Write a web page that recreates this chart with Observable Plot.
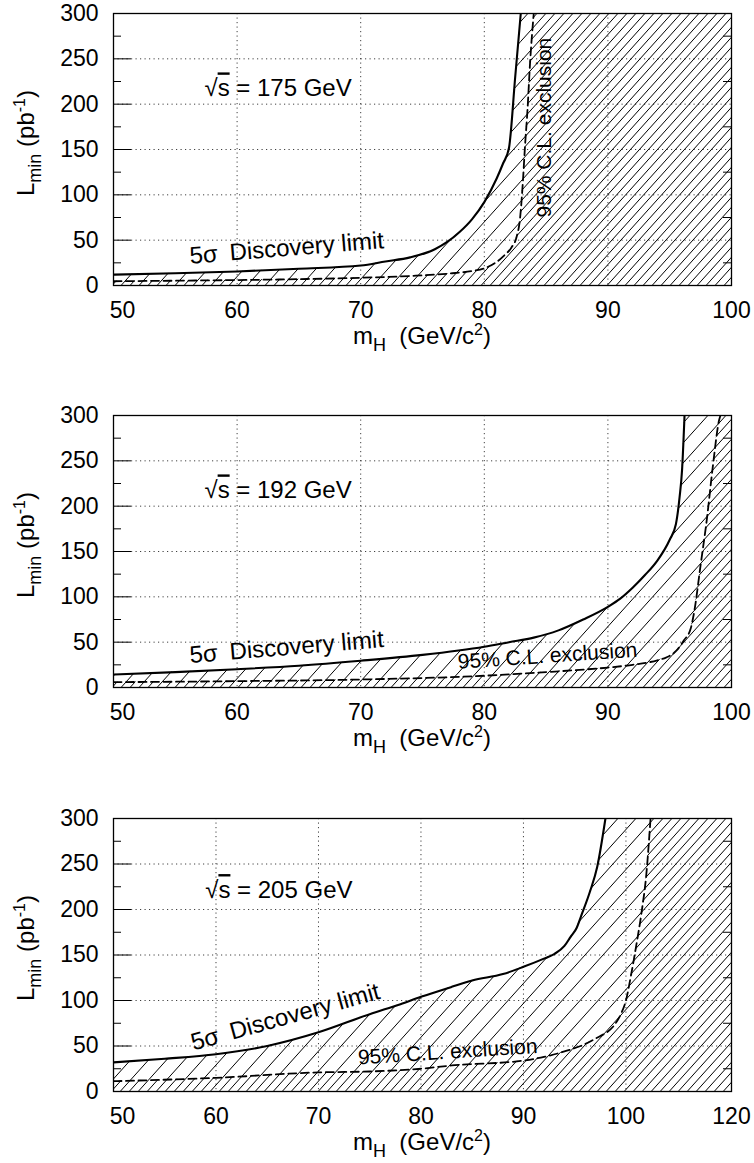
<!DOCTYPE html>
<html><head><meta charset="utf-8">
<script src="https://cdn.jsdelivr.net/npm/d3@7"></script>
<script src="https://cdn.jsdelivr.net/npm/@observablehq/plot@0.6"></script>
<style>body{margin:0;background:#fff} svg{display:block} #chart{width:754px}</style>
</head><body><div id="chart"></div>
<script>
// ---------- data ----------
const energies = ["175", "192", "205"];

const mH175Disc = [50, 55, 60, 65, 70, 72, 74, 76, 77, 78, 79, 80, 81, 81.5, 82, 82.5, 82.95];
const L175Disc  = [12, 13.5, 15.5, 18.5, 22, 26.5, 31, 40, 48, 59, 73, 92, 118, 134, 152, 230, 300];
const mH175Excl = [50, 55, 60, 65, 70, 74, 77, 79, 80, 81, 81.6, 82.2, 82.6, 82.9, 83.1, 83.3, 83.5, 83.7, 84];
const L175Excl  = [4.7, 5.3, 6, 7, 8.5, 10.5, 13, 16, 19, 26, 33, 42, 53, 75, 110, 155, 195, 245, 300];

const mH192Disc = [50, 55, 60, 65, 70, 75, 80, 82, 84, 86, 88, 90, 91, 92, 93, 94, 95, 95.5, 95.8, 96, 96.2];
const L192Disc  = [14.3, 17, 20.2, 24, 29.5, 36, 45, 50, 55, 63, 75, 89, 98, 110, 124, 140, 163, 180, 210, 240, 300];
const mH192Excl = [50, 60, 70, 80, 85, 90, 92, 94, 94.7, 95.5, 96.15, 96.7, 97, 97.5, 98, 98.5, 99, 99.1];
const L192Excl  = [5.9, 7, 8.8, 13, 17, 22, 25, 30, 33, 40, 52, 65, 85, 135, 185, 245, 295, 300];

const mH205Disc = [50, 55, 60, 65, 70, 75, 78, 80, 83, 85, 88, 90, 92, 93, 94, 94.6, 95.2, 95.6, 96.5, 97.2, 98];
const L205Disc  = [32, 36, 41, 50, 65, 85, 96, 104, 115, 122, 129, 137, 146, 151, 160, 170, 180, 192, 220, 247, 300];
const mH205Excl = [50, 60, 70, 75, 80, 83, 90, 92, 94, 96, 97.5, 98, 99, 99.5, 100, 100.5, 101, 101.5, 102, 102.4];
const L205Excl  = [11.3, 15, 21, 22, 25, 28.6, 34, 38, 44, 52, 61, 64, 75, 85, 100, 128, 160, 195, 240, 300];

const yTicks = [0, 50, 100, 150, 200, 250, 300];
const yMinorTicks = [25, 75, 125, 175, 225, 275];
const yGrid = [50, 100, 150, 200, 250];
const xTicksAB = [50, 60, 70, 80, 90, 100];
const xLabelsAB = ["50", "60", "70", "80", "90", "100"];
const xGridAB = [60, 70, 80, 90];
const xTicksC = [50, 60, 70, 80, 90, 100, 110.3];
const xLabelsC = ["50", "60", "70", "80", "90", "100", "120"];
const xGridC = [60, 70, 80, 90, 100];

const discText = "5σ\u2002Discovery limit";
const exclText = "95% C.L. exclusion";

// ---------- panels ----------
const panels = [
  {id: "a", energy: energies[0], xDomain: [50, 100], xTicks: xTicksAB, xLabels: xLabelsAB, xGrid: xGridAB,
   disc: [mH175Disc, L175Disc], excl: [mH175Excl, L175Excl], height: 402, mb: 117,
   sLabel: {m: 57.4, L: 208}, dLabel: {m: 56.2, L: 24, rot: -4.6}, eLabel: {m: 85.4, L: 75, rot: -90}},
  {id: "b", energy: energies[1], xDomain: [50, 100], xTicks: xTicksAB, xLabels: xLabelsAB, xGrid: xGridAB,
   disc: [mH192Disc, L192Disc], excl: [mH192Excl, L192Excl], height: 403, mb: 118,
   sLabel: {m: 57.4, L: 208}, dLabel: {m: 56.2, L: 27, rot: -4.7}, eLabel: {m: 77.9, L: 20.6, rot: -3.9}},
  {id: "c", energy: energies[2], xDomain: [50, 110.3], xTicks: xTicksC, xLabels: xLabelsC, xGrid: xGridC,
   disc: [mH205Disc, L205Disc], excl: [mH205Excl, L205Excl], height: 358, mb: 72,
   sLabel: {m: 59.0, L: 212}, dLabel: {m: 57.8, L: 45, rot: -15.5}, eLabel: {m: 73.9, L: 29.7, rot: -3.7}}
];

const W = 754, mL = 113, mR = 23, mT = 13;
const plotW = W - mL - mR;
const font = "'Liberation Sans', Arial, Helvetica, sans-serif";

function hatchPattern(defs, id, offset) {
  const w = 18, h = 20;
  const p = defs.append("pattern").attr("id", id).attr("patternUnits", "userSpaceOnUse")
    .attr("width", w).attr("height", h).attr("x", offset).attr("y", 0);
  p.append("path")
    .attr("d", `M0,${h} L${w},0 M${-w*0.25},${h*0.25} L${w*0.25},${-h*0.25} M${w*0.75},${h*1.25} L${w*1.25},${h*0.75}`)
    .attr("stroke", "#000").attr("stroke-width", 1).attr("fill", "none");
}

for (const cfg of panels) {
  const disc = cfg.disc[0].map((m, i) => ({m, L: cfg.disc[1][i]}));
  const excl = cfg.excl[0].map((m, i) => ({m, L: cfg.excl[1][i]}));
  const xmax = cfg.xDomain[1];
  const lastD = disc[disc.length - 1], lastE = excl[excl.length - 1];
  const fillD = `url(#hatchD_${cfg.id})`, fillE = `url(#hatchE_${cfg.id})`;
  const labFmt = d => cfg.xLabels[cfg.xTicks.indexOf(d)];

  const plot = Plot.plot({
    width: W, height: cfg.height,
    marginLeft: mL, marginRight: mR, marginTop: mT, marginBottom: cfg.mb,
    style: {fontFamily: font, fontSize: "23px", background: "#fff", overflow: "visible"},
    x: {domain: cfg.xDomain},
    y: {domain: [0, 300]},
    marks: [
      // hatched regions
      Plot.areaY(disc, {x: "m", y1: 0, y2: "L", fill: fillD, curve: "monotone-x", clip: true}),
      Plot.rect([{x1: lastD.m, x2: xmax}], {x1: "x1", x2: "x2", y1: 0, y2: 300, fill: fillD}),
      Plot.areaY(excl, {x: "m", y1: 0, y2: "L", fill: fillE, curve: "monotone-x", clip: true}),
      Plot.rect([{x1: lastE.m, x2: xmax}], {x1: "x1", x2: "x2", y1: 0, y2: 300, fill: fillE}),
      // grid
      Plot.gridX({ticks: cfg.xGrid, stroke: "#000", strokeOpacity: 0.75, strokeDasharray: "1.2,3.3", strokeWidth: 1}),
      Plot.gridY({ticks: yGrid, stroke: "#000", strokeOpacity: 0.75, strokeDasharray: "1.2,3.3", strokeWidth: 1}),
      // inner ticks
      Plot.tickY(yTicks, {y: d => d, insetRight: plotW - 18, stroke: "#000", strokeWidth: 1}),
      Plot.tickY(yMinorTicks, {y: d => d, insetRight: plotW - 8, stroke: "#000", strokeWidth: 1}),
      Plot.tickY(yMinorTicks, {y: d => d, insetLeft: plotW - 8, stroke: "#000", strokeWidth: 1}),
      // curves
      Plot.line(excl, {x: "m", y: "L", stroke: "#000", strokeWidth: 1.8, strokeDasharray: "8,4.5", curve: "monotone-x", clip: true}),
      Plot.line(disc, {x: "m", y: "L", stroke: "#000", strokeWidth: 2.1, curve: "monotone-x", clip: true}),
      Plot.frame({stroke: "#000", strokeWidth: 1.3}),
      // axes
      Plot.axisY({ticks: yTicks, tickSize: 0, tickPadding: 15, fontSize: 23, label: null}),
      Plot.axisX({ticks: cfg.xTicks.slice(0, 1), tickFormat: labFmt, tickSize: 0, tickPadding: 16, fontSize: 23, dx: 9, label: null}),
      Plot.axisX({ticks: cfg.xTicks.slice(1), tickFormat: labFmt, tickSize: 0, tickPadding: 16, fontSize: 23, label: null}),
      // annotations
      Plot.text([cfg.dLabel], {x: "m", y: "L", text: () => discText, rotate: cfg.dLabel.rot, textAnchor: "start", lineAnchor: "bottom", fontSize: 24, fill: "#000"}),
      Plot.text([cfg.eLabel], {x: "m", y: "L", text: () => exclText, rotate: cfg.eLabel.rot, textAnchor: "start", lineAnchor: "bottom", fontSize: 21, fill: "#000"})
    ]
  });

  const svg = d3.select(plot);
  const defs = svg.insert("defs", ":first-child");
  hatchPattern(defs, `hatchD_${cfg.id}`, 0);
  hatchPattern(defs, `hatchE_${cfg.id}`, 9);

  const xs = plot.scale("x"), ys = plot.scale("y");
  // sqrt(s) label
  const t = svg.append("text").attr("x", xs.apply(cfg.sLabel.m)).attr("y", ys.apply(cfg.sLabel.L))
    .attr("text-anchor", "start").attr("font-size", 24).attr("font-family", font).attr("fill", "#000")
    .style("white-space", "pre");
  t.append("tspan").text("√");
  t.append("tspan").text("s").style("text-decoration", "overline");
  t.append("tspan").text(` = ${cfg.energy} GeV`);

  // x title
  const fx = (xs.apply(cfg.xDomain[0]) + xs.apply(cfg.xDomain[1])) / 2;
  const fb = ys.apply(0), ft = ys.apply(300);
  const xt = svg.append("text").attr("x", fx).attr("y", fb + 59).attr("text-anchor", "middle")
    .attr("font-size", 24).attr("font-family", font).attr("fill", "#000").style("white-space", "pre");
  xt.append("tspan").text("m");
  xt.append("tspan").text("H").attr("font-size", 18).attr("dy", 7);
  xt.append("tspan").text("  (GeV/c").attr("dy", -7);
  xt.append("tspan").text("2").attr("font-size", 16).attr("dy", -9);
  xt.append("tspan").text(")").attr("dy", 9);

  // y title
  const yt = svg.append("text").attr("transform", `translate(34,${ft + 130}) rotate(-90)`).attr("text-anchor", "middle")
    .attr("font-size", 24).attr("font-family", font).attr("fill", "#000").style("white-space", "pre");
  yt.append("tspan").text("L");
  yt.append("tspan").text("min").attr("font-size", 18).attr("dy", 7);
  yt.append("tspan").text(" (pb").attr("dy", -7);
  yt.append("tspan").text("-1").attr("font-size", 16).attr("dy", -9);
  yt.append("tspan").text(")").attr("dy", 9);

  document.getElementById("chart").appendChild(plot);
}
</script>
</body></html>
